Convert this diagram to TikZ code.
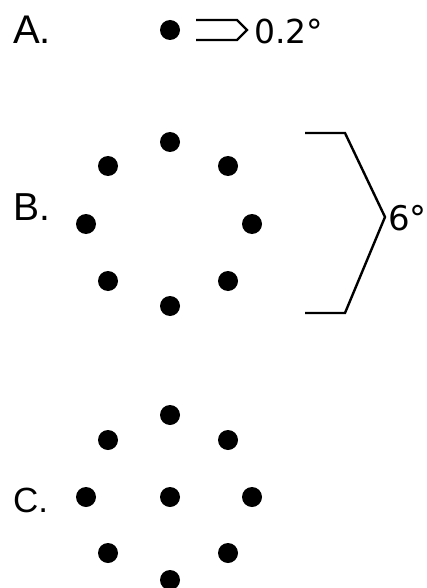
\documentclass[tikz,border=0pt]{standalone}
\usepackage{fontspec}
\setmainfont{Liberation Sans}
\newfontfamily\numfont{DejaVu Sans}
\usetikzlibrary{positioning}
\tikzset{
  dot/.style={circle, fill=black, inner sep=0pt, minimum size=20pt},
  letter/.style={anchor=base west, inner sep=0pt, font=\fontsize{40}{40}\selectfont},
  value/.style={anchor=base west, inner sep=0pt, font=\numfont\fontsize{33}{33}\selectfont},
  stroke/.style={line width=2.4pt, line join=miter},
}

\begin{document}
\begin{tikzpicture}[x=1pt, y=-1pt]
  \useasboundingbox (0,0) rectangle (427,588);
  % A: one dot
  \node[letter] (la) at (13,44) {A.};
  \node[dot] (a0) at (170,30) {};
  \draw[stroke] (196,20) -- (237,20) -- (247,30) -- (237,40) -- (196,40);
  \node[value] (va) at (254,44) {0.2°};
  % B: ring of eight
  \node[letter, font=\fontsize{39}{39}\selectfont] (lb) at (13,220) {B.};
  \foreach \n/\x/\y in {1/170/142, 2/228/166, 3/252/224, 4/228/281,
                        5/170/306, 6/108/281, 7/86/224, 8/108/166}
    \node[dot] (b\n) at (\x,\y) {};
  \coordinate (btop) at (305,133);
  \coordinate (btip) at (385,217);
  \coordinate (bbot) at (305,313);
  \draw[stroke] (btop) -- (345,133) -- (btip) -- (345,313) -- (bbot);
  \node[value, font=\numfont\fontsize{34}{34}\selectfont] (vb) at (388,230) {6°};
  % C: ring of eight and a centre dot
  \node[letter, font=\fontsize{35}{35}\selectfont] (lc) at (13,512) {C.};
  \node[dot] (c0) at (170,497) {};
  \foreach \n/\x/\y in {1/170/415, 2/228/440, 3/252/497, 4/228/553,
                        5/170/580, 6/108/553, 7/86/497, 8/108/440}
    \node[dot] (c\n) at (\x,\y) {};
\end{tikzpicture}
\end{document}
